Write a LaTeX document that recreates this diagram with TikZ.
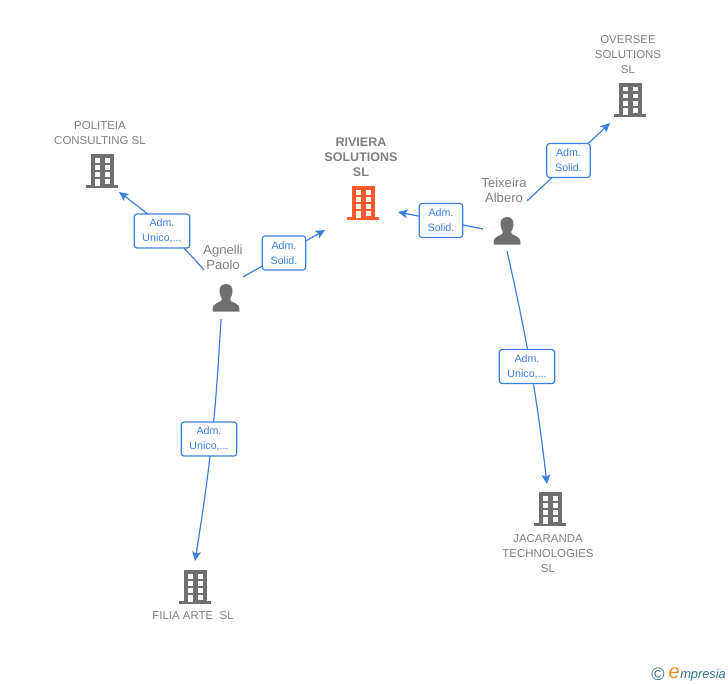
\documentclass[tikz,border=0pt]{standalone}
\usepackage{fontspec}
\setmainfont{Liberation Sans}
\usetikzlibrary{arrows,arrows.meta,positioning,calc}
\definecolor{linkblue}{HTML}{3B80DD}
\definecolor{iconGray}{HTML}{6F6F6F}
\definecolor{labelGray}{HTML}{808080}
\definecolor{mainRed}{HTML}{FF5A2B}
\definecolor{logoTeal}{HTML}{2F7187}
\definecolor{logoOrange}{HTML}{F28A1E}
\newcommand{\rolet}[2]{\raisebox{-1.7pt}{#1}\\\raisebox{-1.7pt}{#2}}
\tikzset{>=stealth}
\tikzset{
	conn/.style={-{Stealth[length=7pt,width=6.5pt,inset=1.5pt]},linkblue,line width=0.9pt},
	rolebox/.style={draw=linkblue,fill=white,rounded corners=2pt,line width=0.9pt,text=linkblue,align=center,
		inner sep=0pt,minimum height=25.5pt,font=\fontsize{8}{11.25}\selectfont},
	rolewide/.style={rolebox,minimum width=41.5pt},
	rolenarrow/.style={rolebox,minimum width=32.5pt},
	firmlabel/.style={text=labelGray,align=center,inner sep=0pt,font=\fontsize{8.6}{11.25}\selectfont},
	personlabel/.style={text=labelGray,align=center,inner sep=0pt,font=\fontsize{9.8}{11.25}\selectfont},
	pics/bldg/.style={code={
		\fill[#1] (-11.5,0) rectangle (11.5,32);
		\fill[#1] (-16,31) rectangle (16,34);
		\foreach \r in {4,11,18}{
			\fill[white] (-7,\r) rectangle (-2,\r+4.5);
			\fill[white] (2.5,\r) rectangle (7.5,\r+4.5);
		}
		\fill[white] (-7,24.5) rectangle (-2,32);
		\fill[white] (2.5,24.5) rectangle (7.5,29.5);
	}},
	pics/person/.style={code={
		\fill[iconGray] (0,0) .. controls (-5,0) and (-7,4) .. (-6.5,8)
			.. controls (-6.3,11) and (-5,13) .. (-4,15)
			.. controls (-4,17) and (-6,18) .. (-9,19)
			.. controls (-12,20) and (-13.5,22) .. (-13.5,27.5)
			-- (13.5,27.5)
			.. controls (13.5,22) and (12,20) .. (9,19)
			.. controls (6,18) and (4,17) .. (4,15)
			.. controls (5,13) and (6.3,11) .. (6.5,8)
			.. controls (7,4) and (5,0) .. (0,0) -- cycle;
	}}
}
\begin{document}
\begin{tikzpicture}[x=0.75pt,y=-0.75pt]
	\useasboundingbox (0,0) rectangle (728,685);
	%Firms
	\node[firmlabel,font=\fontsize{9.4}{11.25}\selectfont\bfseries] (riviera) at (361,157) {RIVIERA\\SOLUTIONS\\SL};
	\pic at (363,186) {bldg=mainRed};
	\node[firmlabel] (politeia) at (100,133) {POLITEIA\\CONSULTING SL};
	\pic at (102,154) {bldg=iconGray};
	\node[firmlabel] (oversee) at (628,55) {OVERSEE\\SOLUTIONS\\SL};
	\pic at (630,83) {bldg=iconGray};
	\pic at (550,492) {bldg=iconGray};
	\node[firmlabel] (jacaranda) at (548,554) {JACARANDA\\TECHNOLOGIES\\SL};
	\pic at (195,570) {bldg=iconGray};
	\node[firmlabel] (filia) at (193,616) {FILIA ARTE\ \ SL};
	%People
	\node[personlabel] (agnelli) at (223,257) {Agnelli\\Paolo};
	\pic at (226,284) {person};
	\node[personlabel] (teixeira) at (504,190) {Teixeira\\Albero};
	\pic at (507,217) {person};
	%Ends
	\coordinate (a1) at (204,270);
	\coordinate (a2) at (243,277);
	\coordinate (a3) at (221,319);
	\coordinate (t1) at (483,229);
	\coordinate (t2) at (527,201);
	\coordinate (t3) at (507,251);
	\coordinate (politeiaIn) at (119,192);
	\coordinate (rivieraL) at (325,230);
	\coordinate (rivieraR) at (398,212);
	\coordinate (overseeIn) at (610,123);
	\coordinate (jacarandaIn) at (547,484);
	\coordinate (filiaIn) at (195,561);
	%Links
	\draw[conn] (a1) to[bend right=6] (politeiaIn);
	\draw[conn] (a2) to (rivieraL);
	\draw[conn] (a3) to[bend left=3] (filiaIn);
	\draw[conn] (t1) to (rivieraR);
	\draw[conn] (t2) to (overseeIn);
	\draw[conn] (t3) to[bend left=3] (jacarandaIn);
	%Boxes
	\node[rolewide] (box1) at (162,231) {\rolet{Adm.}{Unico,...}};
	\node[rolenarrow] (box2) at (284,253) {\rolet{Adm.}{Solid.}};
	\node[rolewide] (box3) at (209,439) {\rolet{Adm.}{Unico,...}};
	\node[rolenarrow] (box4) at (441,220.5) {\rolet{Adm.}{Solid.}};
	\node[rolenarrow] (box5) at (568.5,160.5) {\rolet{Adm.}{Solid.}};
	\node[rolewide] (box6) at (527,366.5) {\rolet{Adm.}{Unico,...}};
	%Logo
	\node[text=logoTeal,inner sep=0pt,font=\fontsize{13.5}{14}\selectfont] (copyr) at (658,674) {©};
	\node[text=logoTeal,inner sep=0pt,anchor=base west,font=\fontsize{9.6}{10}\selectfont\itshape] (logo) at (680,678)
		{mpresia};
	\node[text=logoOrange,inner sep=0pt,anchor=base east,font=\fontsize{15}{15}\selectfont\itshape] (logoe) at (logo.base west) {e};
\end{tikzpicture}
\end{document}
